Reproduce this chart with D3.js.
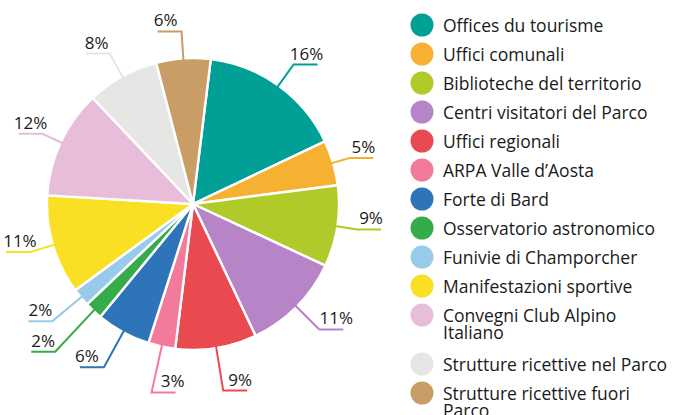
<!DOCTYPE html>
<html>
<head>
<meta charset="utf-8">
<script src="https://cdn.jsdelivr.net/npm/d3@7"></script>
<style>
    html, body { margin: 0; padding: 0; background: #fff; }
    #chart { width: 673px; height: 415px; }
    text { font-family: "Open Sans", "Noto Sans", sans-serif; fill: #1a1a1a; }
</style>
</head>
<body>
<div id="chart"></div>
<script>
// chart data
const categories = [
    "Offices du tourisme",
    "Uffici comunali",
    "Biblioteche del territorio",
    "Centri visitatori del Parco",
    "Uffici regionali",
    "ARPA Valle d’Aosta",
    "Forte di Bard",
    "Osservatorio astronomico",
    "Funivie di Champorcher",
    "Manifestazioni sportive",
    "Convegni Club Alpino\nItaliano",
    "Strutture ricettive nel Parco",
    "Strutture ricettive fuori\nParco"
];

const shares = [16, 5, 9, 11, 9, 3, 6, 2, 2, 11, 12, 8, 6];

const colors = [
    "#00a096", "#f6b133", "#afca29", "#b784c7", "#e84a50", "#f47a9b",
    "#2e74b9", "#35ab4a", "#98cbea", "#fae025", "#e8bdda", "#e6e6e4", "#c89e66"
];

// label leader layout (elbow radius, hook direction, text nudge)
const elbowR = [172, 163, 166, 178, 189, 193, 186, 202, 183, 170, 166, 172, 173];
const hookDir = [1, 1, 1, 1, 1, 1, -1, -1, -1, -1, -1, -1, -1];
const textNudge = [1, 2, 2, 5, 5, 9, -5, 0, 0, 2, 0, -1, -4];

const width = 673;
const height = 415;
const center = { x: 193, y: 204 };
const radius = 146;

const svg = d3.select("#chart")
    .append("svg")
    .attr("width", width)
    .attr("height", height)
    .attr("viewBox", `0 0 ${width} ${height}`);

const data = categories.map((c, i) => ({ name: c, value: shares[i], i: i }));

const pie = d3.pie()
    .value(d => d.value)
    .sort(null)
    .startAngle(7 * Math.PI / 180)
    .endAngle(7 * Math.PI / 180 + 2 * Math.PI);

const arcs = pie(data);

const arc = d3.arc().innerRadius(0).outerRadius(radius);

const g = svg.append("g")
    .attr("transform", `translate(${center.x},${center.y})`);

g.selectAll("path.slice")
    .data(arcs)
    .join("path")
    .attr("class", "slice")
    .attr("d", arc)
    .attr("fill", d => colors[d.data.i])
    .attr("stroke", "#fff")
    .attr("stroke-width", 2.4)
    .attr("stroke-linejoin", "round");

// leader lines + percent labels
const hookLen = 24;

function polar(r, a) {
    return [r * Math.sin(a), -r * Math.cos(a)];
}

const labels = g.selectAll("g.label")
    .data(arcs)
    .join("g")
    .attr("class", "label");

labels.append("polyline")
    .attr("points", d => {
        const mid = (d.startAngle + d.endAngle) / 2;
        const p0 = polar(radius - 4, mid);
        const p1 = polar(elbowR[d.data.i], mid);
        const p2 = [p1[0] + hookDir[d.data.i] * hookLen, p1[1]];
        return [p0, p1, p2].map(p => p.join(",")).join(" ");
    })
    .attr("fill", "none")
    .attr("stroke", d => colors[d.data.i])
    .attr("stroke-width", 2);

labels.append("text")
    .attr("x", d => {
        const mid = (d.startAngle + d.endAngle) / 2;
        const p1 = polar(elbowR[d.data.i], mid);
        return p1[0] + hookDir[d.data.i] * hookLen / 2 + textNudge[d.data.i];
    })
    .attr("y", d => {
        const mid = (d.startAngle + d.endAngle) / 2;
        return polar(elbowR[d.data.i], mid)[1] - 5;
    })
    .attr("text-anchor", "middle")
    .attr("font-size", "17px")
    .text(d => d3.format("d")(d.data.value) + "%");

// legend
const legend = svg.append("g").attr("transform", "translate(422,25)");

let yPos = 0;
const rowGap = 29;
const lineGap = 17;

data.forEach(d => {
    const lines = d.name.split("\n");
    const item = legend.append("g").attr("transform", `translate(0,${yPos})`);
    item.append("circle")
        .attr("r", 11.5)
        .attr("fill", colors[d.i]);
    const t = item.append("text")
        .attr("x", 21)
        .attr("y", 7)
        .attr("font-size", "17.5px");
    lines.forEach((l, k) => {
        t.append("tspan")
            .attr("x", 21)
            .attr("dy", k === 0 ? 0 : lineGap)
            .text(l);
    });
    yPos += rowGap + (lines.length - 1) * 20;
});
</script>
</body>
</html>
